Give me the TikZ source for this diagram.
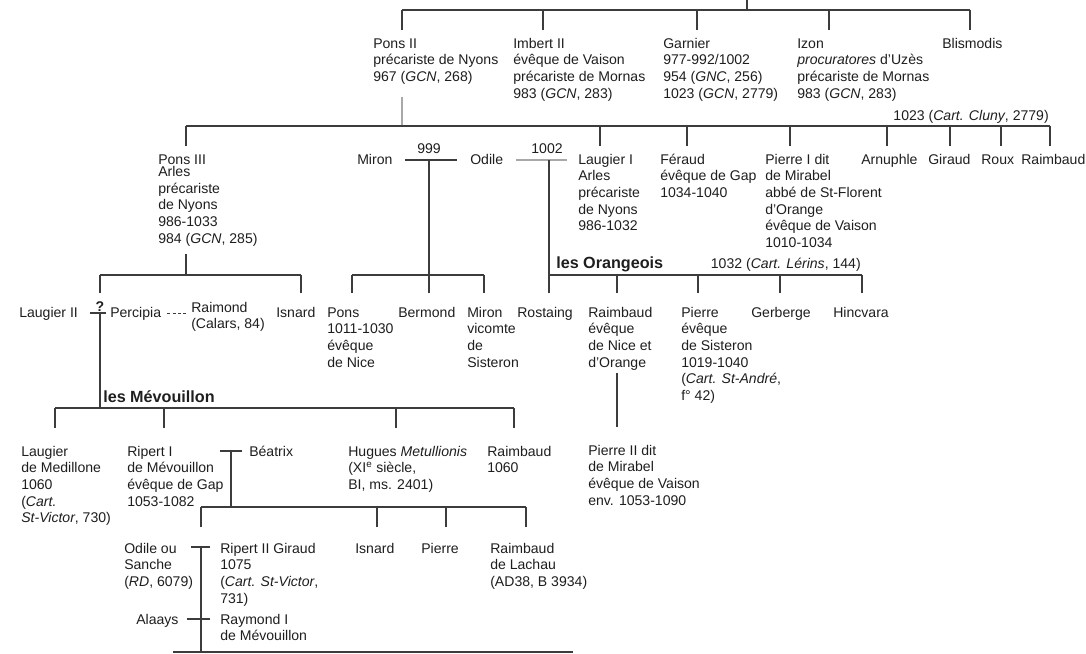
\documentclass[tikz,border=0pt]{standalone}
\usepackage{fontspec}
\setmainfont{Liberation Sans}
\definecolor{ink}{HTML}{1E1E1E}
\definecolor{wire}{HTML}{3C3C3C}
\definecolor{faint}{HTML}{A8A8A8}
\newcommand{\kin}[1]{\begin{tabular}[t]{@{}l@{}}#1\end{tabular}}

\begin{document}
\begin{tikzpicture}[x=0.025cm,y=-0.025cm,every node/.style={font=\fontsize{10}{11.9}\selectfont,text=ink},person/.style={anchor=base west,inner sep=0pt},note/.style={anchor=base,inner sep=0pt},house/.style={anchor=base west,inner sep=0pt,font=\fontsize{11.5}{14}\selectfont\bfseries},tie/.style={draw=wire,line width=0.8pt},light/.style={draw=faint,line width=0.8pt}]
\useasboundingbox (0,0) rectangle (1086,653);
\node[person] (ponsII) at (373,48) {\kin{Pons II\\précariste de Nyons\\967 (\textit{GCN}, 268)}};
\node[person] (imbertII) at (513,48) {\kin{Imbert II\\évêque de Vaison\\précariste de Mornas\\983 (\textit{GCN}, 283)}};
\node[person] (garnier) at (663,48) {\kin{Garnier\\977-992/1002\\954 (\textit{GNC}, 256)\\1023 (\textit{GCN}, 2779)}};
\node[person] (izon) at (797,48) {\kin{Izon\\\textit{procuratores} d'Uzès\\précariste de Mornas\\983 (\textit{GCN}, 283)}};
\node[person] (blismodis) at (942,48) {Blismodis};
\node[note,anchor=base east] (cluny) at (1049,120) {1023 (\textit{Cart. Cluny}, 2779)};
\node[person] (ponsIII) at (158,164) {\kin{Pons III\\[-3pt]Arles\\précariste\\de Nyons\\986-1033\\984 (\textit{GCN}, 285)}};
\node[person] (miron) at (357,164) {Miron};
\node[note] (y999) at (429,153) {999};
\node[person] (odile) at (470,164) {Odile};
\node[note] (y1002) at (547,153) {1002};
\node[person] (laugierI) at (578,164) {\kin{Laugier I\\Arles\\précariste\\de Nyons\\986-1032}};
\node[person] (feraud) at (660,164) {\kin{Féraud\\évêque de Gap\\1034-1040}};
\node[person] (pierreI) at (765,164) {\kin{Pierre I dit\\de Mirabel\\abbé de St-Florent\\d'Orange\\évêque de Vaison\\1010-1034}};
\node[person] (arnuphle) at (861,164) {Arnuphle};
\node[person] (giraud) at (928,164) {Giraud};
\node[person] (roux) at (981,164) {Roux};
\node[person] (raimbaud) at (1021,164) {Raimbaud};
\node[house] (orangeois) at (556,268) {les Orangeois};
\node[note,anchor=base east] (lerins) at (861,268) {1032 (\textit{Cart. Lérins}, 144)};
\node[person] (laugierII) at (19,317) {Laugier II};
\node[note,font=\bfseries] (qmark) at (100,311.5) {?};
\node[person] (percipia) at (110,317) {Percipia};
\node[person] (raimond) at (191,312) {\kin{Raimond\\(Calars, 84)}};
\node[person] (isnard) at (276,317) {Isnard};
\node[person] (pons) at (327,317) {\kin{Pons\\1011-1030\\évêque\\de Nice}};
\node[person] (bermond) at (398,317) {Bermond};
\node[person] (mironII) at (467,317) {\kin{Miron\\vicomte\\de\\Sisteron}};
\node[person] (rostaing) at (517,317) {Rostaing};
\node[person] (raimbaudO) at (588,317) {\kin{Raimbaud\\évêque\\de Nice et\\d'Orange}};
\node[person] (pierre) at (681,317) {\kin{Pierre\\évêque\\de Sisteron\\1019-1040\\(\textit{Cart. St-André},\\f° 42)}};
\node[person] (gerberge) at (751,317) {Gerberge};
\node[person] (hincvara) at (833,317) {Hincvara};
\node[house] (mevouillon) at (103,402) {les Mévouillon};
\node[person] (pierreII) at (588,455) {\kin{Pierre II dit\\de Mirabel\\évêque de Vaison\\env. 1053-1090}};
\node[person] (laugierM) at (21,456) {\kin{Laugier\\de Medillone\\1060\\(\textit{Cart.}\\\textit{St-Victor}, 730)}};
\node[person] (ripertI) at (127,456) {\kin{Ripert I\\de Mévouillon\\évêque de Gap\\1053-1082}};
\node[person] (beatrix) at (249,456) {Béatrix};
\node[person] (hugues) at (348,456) {\kin{Hugues \textit{Metullionis}\\(XI\textsuperscript{e} siècle,\\BI, ms. 2401)}};
\node[person] (raimbaudM) at (487,456) {\kin{Raimbaud\\1060}};
\node[person] (odileS) at (124,553) {\kin{Odile ou\\Sanche\\(\textit{RD}, 6079)}};
\node[person] (ripertII) at (220,553) {\kin{Ripert II Giraud\\1075\\(\textit{Cart. St-Victor},\\731)}};
\node[person] (isnardM) at (355,553) {Isnard};
\node[person] (pierreM) at (421,553) {Pierre};
\node[person] (raimbaudL) at (490,553) {\kin{Raimbaud\\de Lachau\\(AD38, B 3934)}};
\node[person] (alaays) at (136,624) {Alaays};
\node[person] (raymondI) at (220,624) {\kin{Raymond I\\de Mévouillon}};
\coordinate (root) at (747,0);
\coordinate (b1) at (747,10);
\draw[tie] (root) -- (b1);
\foreach \n/\x in {ponsII/402,imbertII/543,garnier/697,izon/829,blismodis/970}
  \draw[tie] (\x,30) coordinate (\n-d) -- (\n-d |- b1);
\draw[tie] (ponsII-d |- b1) -- (blismodis-d |- b1);
\coordinate (ponsII-s) at (402,97);
\coordinate (b2) at (402,126);
\draw[light] (ponsII-s) -- (b2);
\foreach \n/\x in {ponsIII/186,laugierI/600,feraud/687,pierreI/790,arnuphle/887,giraud/950,roux/1001,raimbaud/1050}
  \draw[tie] (\x,146) coordinate (\n-d) -- (\n-d |- b2);
\draw[tie] (ponsIII-d |- b2) -- (raimbaud-d |- b2);
\coordinate (j999) at (429,160);
\draw[tie] ([xshift=-0.6cm]j999) -- ([xshift=0.7cm]j999);
\coordinate (j1002) at (549,160);
\draw[light] ([xshift=-0.825cm]j1002) -- ([xshift=0.45cm]j1002);
\coordinate (ponsIII-s) at (186,254);
\coordinate (b3) at (186,275);
\draw[tie] (ponsIII-s) -- (b3);
\foreach \n/\x in {laugierII/100,isnard/301,pons/352,bermond/429,mironII/484,rostaing/549,raimbaudO/617,pierre/698,gerberge/780,hincvara/862}
  \draw[tie] (\x,293) coordinate (\n-d) -- (\n-d |- b3);
\draw[tie] (laugierII-d |- b3) -- (isnard-d |- b3);
\draw[tie] (pons-d |- b3) -- (mironII-d |- b3);
\draw[tie] (rostaing-d |- b3) -- (hincvara-d |- b3);
\draw[tie] (j999) -- (bermond-d);
\draw[tie] (j1002) -- (rostaing-d);
\coordinate (jq) at (100,313);
\draw[tie] ([xshift=-0.25cm]jq) -- ([xshift=0.15cm]jq);
\draw[tie,dash pattern=on 2.2pt off 1.6pt,shorten <=0.15cm,shorten >=0.1cm] (percipia.east) -- (percipia.east -| raimond.west);
\coordinate (b4) at (100,408);
\draw[tie] (jq) -- (b4);
\foreach \n/\x in {laugierM/55,ripertI/164,hugues/396,raimbaudM/514}
  \draw[tie] (\x,428) coordinate (\n-d) -- (\n-d |- b4);
\draw[tie] (laugierM-d |- b4) -- (raimbaudM-d |- b4);
\coordinate (raimbaudO-s) at (617,373);
\coordinate (pierreII-u) at (617,427);
\draw[tie] (raimbaudO-s) -- (pierreII-u);
\coordinate (jbeatrix) at (231,451);
\draw[tie] ([xshift=-0.275cm]jbeatrix) -- ([xshift=0.275cm]jbeatrix);
\coordinate (b5) at (231,507);
\draw[tie] (jbeatrix) -- (b5);
\foreach \n/\x in {ripertII/201,isnardM/377,pierreM/446,raimbaudL/526}
  \draw[tie] (\x,527) coordinate (\n-d) -- (\n-d |- b5);
\draw[tie] (ripertII-d |- b5) -- (raimbaudL-d |- b5);
\coordinate (jodile) at (201,547);
\coordinate (jalaays) at (201,619);
\draw[tie] ([xshift=-0.25cm]jodile) -- ([xshift=0.225cm]jodile);
\draw[tie] ([xshift=-0.35cm]jalaays) -- ([xshift=0.225cm]jalaays);
\coordinate (b6) at (201,652);
\draw[tie] (jodile) -- (b6);
\coordinate (last-l) at (173,652);
\coordinate (last-r) at (573,652);
\draw[tie] (last-l) -- (last-r);
\end{tikzpicture}
\end{document}
